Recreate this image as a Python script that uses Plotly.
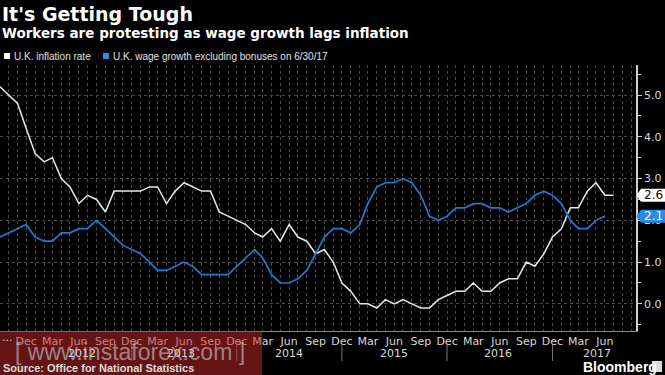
import plotly.graph_objects as go
import pandas as pd

# ---------------- data ----------------
infl_months = pd.date_range("2011-09-01", "2017-07-01", freq="MS")
uk_inflation = [
    5.2, 5.0, 4.8, 4.2,
    3.6, 3.4, 3.5, 3.0, 2.8, 2.4, 2.6, 2.5, 2.2, 2.7, 2.7, 2.7,
    2.7, 2.8, 2.8, 2.4, 2.7, 2.9, 2.8, 2.7, 2.7, 2.2, 2.1, 2.0,
    1.9, 1.7, 1.6, 1.8, 1.5, 1.9, 1.6, 1.5, 1.2, 1.3, 1.0, 0.5,
    0.3, 0.0, 0.0, -0.1, 0.1, 0.0, 0.1, 0.0, -0.1, -0.1, 0.1, 0.2,
    0.3, 0.3, 0.5, 0.3, 0.3, 0.5, 0.6, 0.6, 1.0, 0.9, 1.2, 1.6,
    1.8, 2.3, 2.3, 2.7, 2.9, 2.6, 2.6,
]
wage_months = pd.date_range("2011-09-01", "2017-06-01", freq="MS")
uk_wage_growth = [
    1.6, 1.7, 1.8, 1.9,
    1.6, 1.5, 1.5, 1.7, 1.7, 1.8, 1.8, 2.0, 1.8, 1.6, 1.4, 1.3,
    1.2, 1.0, 0.8, 0.8, 0.9, 1.0, 0.9, 0.7, 0.7, 0.7, 0.7, 0.9,
    1.1, 1.3, 1.1, 0.7, 0.5, 0.5, 0.6, 0.8, 1.2, 1.6, 1.8, 1.8,
    1.7, 1.9, 2.4, 2.8, 2.9, 2.9, 3.0, 2.9, 2.6, 2.1, 2.0, 2.1,
    2.3, 2.3, 2.4, 2.4, 2.3, 2.3, 2.2, 2.3, 2.4, 2.6, 2.7, 2.6,
    2.4, 2.0, 1.8, 1.8, 2.0, 2.1,
]
tick_dates = pd.date_range("2011-12-01", "2017-06-01", freq="3MS")
tick_labels = [d.strftime("%b") for d in tick_dates]
year_labels = ["2012", "2013", "2014", "2015", "2016", "2017"]
year_label_dates = ["2012-06-10", "2013-05-20", "2014-06-01", "2015-06-01", "2016-05-25", "2017-05-05"]
year_sep_dates = ["2012-12-01", "2013-12-01", "2014-12-01", "2015-12-01", "2016-12-01"]
y_ticks = [0, 1, 2, 3, 4, 5]

series_names = ["U.K. inflation rate", "U.K. wage growth excluding bonuses on 6/30/17"]
WHITE = "#e8e8e8"
BLUE = "#1f7ad4"
BG = "#000000"
GRID = "#4a4a4a"
FONT = "DejaVu Sans"
NARROW = "Liberation Sans"

Y0, Y1 = -0.65, 5.72
W, H = 665, 375
L, R, T, B = 0, 29, 65, 44
PW, PH = W - L - R, H - T - B


def px_x(p):
    return (p - L) / PW


def px_y(p):
    return (H - B - p) / PH


def val_y(v):
    return (v - Y0) / (Y1 - Y0)


fig = go.Figure()
fig.add_trace(go.Scatter(x=infl_months, y=uk_inflation, mode="lines",
                         line=dict(color=WHITE, width=1.5), name=series_names[0]))
fig.add_trace(go.Scatter(x=wage_months, y=uk_wage_growth, mode="lines",
                         line=dict(color=BLUE, width=1.7), name=series_names[1]))

fig.update_layout(
    width=W, height=H, margin=dict(l=L, r=R, t=T, b=B),
    paper_bgcolor=BG, plot_bgcolor=BG, showlegend=False,
    font=dict(family=FONT, color="#d8d8d8", size=11),
)
fig.update_xaxes(
    type="date", range=["2011-09-01", "2017-09-17"],
    tickmode="array", tickvals=tick_dates, ticktext=tick_labels,
    ticks="", showgrid=True, gridcolor=GRID, griddash="dot", gridwidth=1,
    minor=dict(tickmode="linear", tick0="2011-09-01", dtick="M1", showgrid=True,
               gridcolor=GRID, griddash="dot", gridwidth=1),
    showline=True, linecolor="#8a8a8a", linewidth=1,
    tickfont=dict(family=FONT, size=11, color="#d8d8d8"),
    zeroline=False,
)
fig.update_yaxes(
    side="right", range=[Y0, Y1], tickvals=y_ticks, tickformat=".1f",
    ticks="outside", ticklen=4, tickcolor="#cfcfcf", tickwidth=1,
    minor=dict(tickmode="linear", tick0=0, dtick=0.5, ticks="outside", ticklen=3,
               tickcolor="#cfcfcf", showgrid=False),
    showgrid=True, gridcolor=GRID, griddash="dot", gridwidth=1,
    showline=True, linecolor="#cfcfcf", linewidth=1.5,
    tickfont=dict(family=FONT, size=11, color="#d8d8d8"),
    zeroline=False,
)

ann = []
shapes = []
# titles
ann.append(dict(text="<b>It's Getting Tough</b>", x=0, y=px_y(14), xref="paper", yref="paper",
                xanchor="left", yanchor="middle", showarrow=False,
                font=dict(family=FONT, size=19, color="#ffffff")))
ann.append(dict(text="<b>Workers are protesting as wage growth lags inflation</b>", x=0, y=px_y(33),
                xref="paper", yref="paper", xanchor="left", yanchor="middle", showarrow=False,
                font=dict(family=FONT, size=13.5, color="#ffffff")))
# legend
for nm, col, x0 in [(series_names[0], "#ffffff", 4), (series_names[1], "#2a8ae6", 103)]:
    shapes.append(dict(type="rect", xref="paper", yref="paper", x0=px_x(x0), x1=px_x(x0 + 6),
                       y0=px_y(59), y1=px_y(53), fillcolor=col, line=dict(width=0)))
    ann.append(dict(text=nm, x=px_x(x0 + 8), y=px_y(56), xref="paper", yref="paper",
                    xanchor="left", yanchor="middle", showarrow=False,
                    font=dict(family=NARROW, size=10, color="#e0e0e0")))
# last value tags
for v, fill, tcol in [(uk_inflation[-1], "#ffffff", "#000000"), (uk_wage_growth[-1], "#2a8ae6", "#ffffff")]:
    yc = val_y(v)
    hh = 6.5 / PH
    path = (f"M {px_x(636.5)},{yc} L {px_x(641)},{yc + hh} L {px_x(665)},{yc + hh} "
            f"L {px_x(665)},{yc - hh} L {px_x(641)},{yc - hh} Z")
    shapes.append(dict(type="path", path=path, xref="paper", yref="paper",
                       fillcolor=fill, line=dict(width=0)))
    ann.append(dict(text=f"{v:.1f}", x=px_x(653), y=yc, xref="paper", yref="paper",
                    xanchor="center", yanchor="middle", showarrow=False,
                    font=dict(family=FONT, size=12, color=tcol)))
# year labels and separators
for yl, yd in zip(year_labels, year_label_dates):
    ann.append(dict(text=yl, x=yd, y=px_y(353), xref="x", yref="paper", xanchor="center",
                    yanchor="middle", showarrow=False,
                    font=dict(family=FONT, size=11, color="#d8d8d8")))
for sd in year_sep_dates:
    shapes.append(dict(type="line", xref="x", yref="paper", x0=sd, x1=sd,
                       y0=px_y(345), y1=px_y(361), line=dict(color="#777777", width=1)))
ann.append(dict(text="...", x=0, y=px_y(337), xref="paper", yref="paper", xanchor="left",
                yanchor="middle", showarrow=False, font=dict(family=FONT, size=11, color="#d8d8d8")))
# source and brand
ann.append(dict(text="<b>Source: Office for National Statistics</b>", x=px_x(1), y=px_y(368),
                xref="paper", yref="paper", xanchor="left", yanchor="middle", showarrow=False,
                font=dict(family=NARROW, size=11, color="#dddddd")))
ann.append(dict(text="<b>Bloomberg</b>", x=px_x(581), y=px_y(367), xref="paper", yref="paper",
                xanchor="left", yanchor="middle", showarrow=False,
                font=dict(family=NARROW, size=14, color="#ffffff")))
shapes.append(dict(type="rect", xref="paper", yref="paper", x0=px_x(652), x1=px_x(662),
                   y0=px_y(372), y1=px_y(361), fillcolor="#dddddd", line=dict(width=0)))
# watermark
shapes.append(dict(type="rect", xref="paper", yref="paper", x0=px_x(0), x1=px_x(262),
                   y0=px_y(375), y1=px_y(331), fillcolor="rgba(200,40,40,0.5)",
                   line=dict(width=0), layer="above"))
ann.append(dict(text="[ www.instaforex.com ]", x=px_x(130), y=px_y(352), xref="paper", yref="paper",
                xanchor="center", yanchor="middle", showarrow=False,
                font=dict(family=NARROW, size=23, color="rgba(195,195,195,0.65)")))

fig.update_layout(annotations=ann, shapes=shapes)
fig.write_html("out.html", config={"displayModeBar": False},
               post_script="document.body.style.margin='0';")
